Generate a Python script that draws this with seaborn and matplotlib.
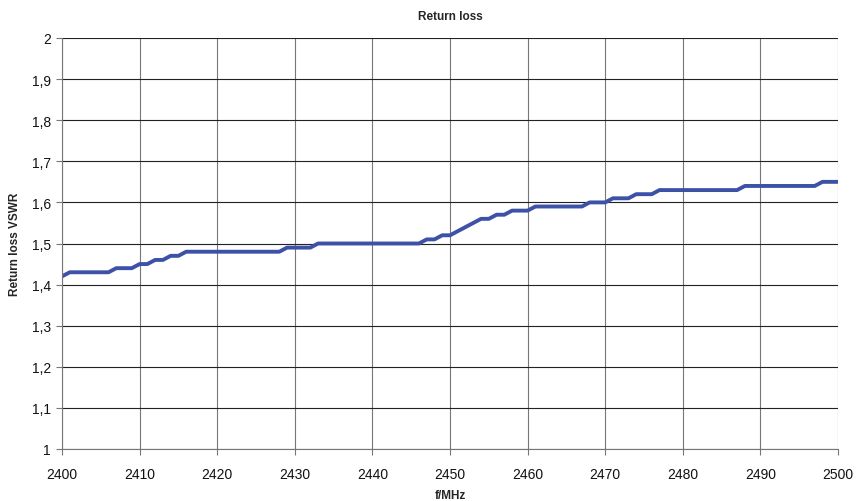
import matplotlib
matplotlib.use("Agg")
import matplotlib.pyplot as plt
import seaborn as sns
import pandas as pd
import numpy as np

freq_mhz = list(range(2400, 2501))
vswr = (
    [1.42] + [1.43] * 6 + [1.44] * 3 + [1.45] * 2 + [1.46] * 2 + [1.47] * 2
    + [1.48] * 13 + [1.49] * 4 + [1.50] * 14 + [1.51] * 2 + [1.52] * 2
    + [1.53, 1.54, 1.55] + [1.56] * 2 + [1.57] * 2 + [1.58] * 3
    + [1.59] * 7 + [1.60] * 3 + [1.61] * 3 + [1.62] * 3 + [1.63] * 11
    + [1.64] * 10 + [1.65] * 3
)
x_ticks = list(range(2400, 2501, 10))
y_ticks = [1.0, 1.1, 1.2, 1.3, 1.4, 1.5, 1.6, 1.7, 1.8, 1.9, 2.0]
y_tick_labels = ["1", "1,1", "1,2", "1,3", "1,4", "1,5", "1,6", "1,7", "1,8", "1,9", "2"]

df = pd.DataFrame({"f": freq_mhz, "vswr": vswr})

sns.set_theme(style="white")
plt.rcParams["font.family"] = ["Liberation Sans", "DejaVu Sans"]

fig = plt.figure(figsize=(8.56, 5.02), dpi=100)
ax = fig.add_axes([62 / 856, 1 - 450 / 502, (838 - 62) / 856, (450 - 39) / 502])

sns.lineplot(data=df, x="f", y="vswr", ax=ax, color="#3d52a6", linewidth=2.8)
for ln in ax.get_lines():
    ln.set_solid_joinstyle("round")
    ln.set_solid_capstyle("round")

ax.set_xlim(2400, 2500)
ax.set_ylim(1.0, 2.0)
ax.set_xticks(x_ticks)
ax.set_xticklabels([str(t) for t in x_ticks], fontsize=10)
ax.set_yticks(y_ticks)
ax.set_yticklabels(y_tick_labels, fontsize=10)

ax.grid(True, axis="y", color="#222222", linewidth=0.8)
ax.grid(True, axis="x", color="#777777", linewidth=0.8)
ax.set_axisbelow(True)
for side in ["top", "right"]:
    ax.spines[side].set_visible(False)
for side in ["left", "bottom"]:
    ax.spines[side].set_color("#777777")
    ax.spines[side].set_linewidth(0.8)
ax.tick_params(axis="both", which="major", length=4, width=0.8, color="#777777",
               bottom=True, left=True, pad=4, labelcolor="#111111")
ax.tick_params(axis="x", pad=9)

ax.set_title("Return loss", fontsize=8.5, fontweight="bold", pad=14)
ax.set_xlabel("f/MHz", fontsize=8.5, fontweight="bold", labelpad=6)
ax.set_ylabel("Return loss VSWR", fontsize=8.5, fontweight="bold", labelpad=8)

fig.savefig("out.png", dpi=100)
